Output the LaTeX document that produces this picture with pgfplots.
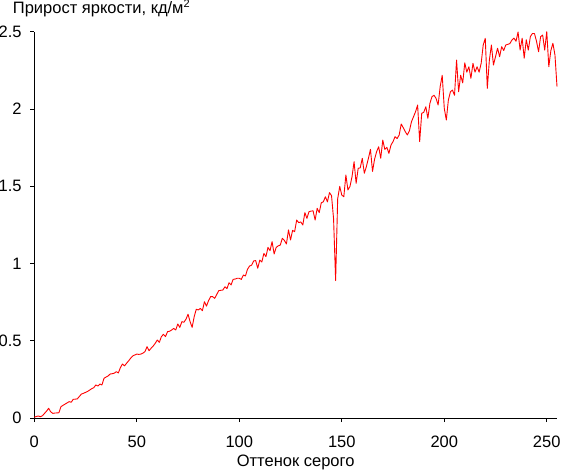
\documentclass[border=0pt]{standalone}
\usepackage{fontspec}
\setmainfont{Liberation Sans}
\usepackage{pgfplots}
\pgfplotsset{compat=1.18}
\usepackage{pgfplotstable}
\pgfplotstableread{
x y
0 0.005
1 0.01
2 0.013
3 0.008
4 0.015
5 0.03
6 0.045
7 0.063
8 0.04
9 0.03
10 0.032
11 0.033
12 0.034
13 0.073
14 0.082
15 0.09
16 0.098
17 0.106
18 0.102
19 0.121
20 0.122
21 0.124
22 0.14
23 0.155
24 0.16
25 0.166
26 0.172
27 0.181
28 0.19
29 0.196
30 0.214
31 0.207
32 0.22
33 0.214
34 0.257
35 0.265
36 0.272
37 0.285
38 0.287
39 0.29
40 0.30
41 0.292
42 0.326
43 0.35
44 0.338
45 0.354
46 0.37
47 0.387
48 0.402
49 0.408
50 0.414
51 0.412
52 0.414
53 0.42
54 0.43
55 0.462
56 0.436
57 0.452
58 0.466
59 0.484
60 0.505
61 0.49
62 0.527
63 0.542
64 0.527
65 0.559
66 0.562
67 0.57
68 0.58
69 0.57
70 0.609
71 0.587
72 0.624
73 0.62
74 0.64
75 0.672
76 0.624
77 0.587
78 0.656
79 0.704
80 0.70
81 0.71
82 0.695
83 0.753
84 0.725
85 0.76
86 0.786
87 0.786
88 0.775
89 0.80
90 0.825
91 0.827
92 0.829
93 0.85
94 0.838
95 0.876
96 0.862
97 0.898
98 0.90
99 0.905
100 0.905
101 0.898
102 0.926
103 0.92
104 0.963
105 0.984
106 0.99
107 1.017
108 1.02
109 0.97
110 1.023
111 1.01
112 1.066
113 1.045
114 1.105
115 1.084
116 1.142
117 1.062
118 1.105
119 1.115
120 1.12
121 1.164
122 1.15
123 1.127
124 1.218
125 1.153
126 1.215
127 1.207
128 1.282
129 1.265
130 1.27
131 1.25
132 1.33
133 1.293
134 1.336
135 1.34
136 1.342
137 1.282
138 1.358
139 1.33
140 1.394
141 1.40
142 1.433
143 1.40
144 1.46
145 1.44
146 1.29
147 0.89
148 1.42
149 1.50
150 1.444
151 1.433
152 1.574
153 1.477
154 1.50
155 1.563
156 1.66
157 1.52
158 1.617
159 1.62
160 1.682
161 1.585
162 1.628
163 1.682
164 1.74
165 1.597
166 1.676
167 1.725
168 1.757
169 1.682
170 1.80
171 1.74
172 1.753
173 1.714
174 1.768
175 1.79
176 1.822
177 1.81
178 1.833
179 1.904
180 1.88
181 1.854
182 1.833
183 1.86
184 1.919
185 1.951
186 1.984
187 2.027
188 1.79
189 1.973
190 1.98
191 2.016
192 1.941
193 2.038
194 2.081
195 2.09
196 2.07
197 2.027
198 2.146
199 2.22
200 2.006
201 1.93
202 2.06
203 2.113
204 2.124
205 2.09
206 2.318
207 2.113
208 2.22
209 2.17
210 2.30
211 2.24
212 2.275
213 2.2
214 2.297
215 2.24
216 2.275
217 2.24
218 2.297
219 2.416
220 2.459
221 2.135
222 2.318
223 2.416
224 2.286
225 2.34
226 2.395
227 2.34
228 2.405
229 2.38
230 2.416
231 2.42
232 2.425
233 2.448
234 2.46
235 2.44
236 2.50
237 2.383
238 2.46
239 2.33
240 2.45
241 2.383
242 2.47
243 2.49
244 2.49
245 2.44
246 2.372
247 2.47
248 2.48
249 2.383
250 2.502
251 2.275
252 2.38
253 2.427
254 2.351
255 2.146
}\datatable
\begin{document}
\fontsize{16.5pt}{19pt}\selectfont
\begin{tikzpicture}
\useasboundingbox (-34.3pt,-53pt) rectangle (526.7pt,418pt);
\begin{axis}[
  at={(0pt,0pt)}, anchor=origin,
  scale only axis,
  width=522.7pt, height=386pt,
  xmin=0, xmax=255, ymin=0, ymax=2.5,
  clip=false,
  axis x line*=bottom, axis y line*=left,
  axis line style={black, line width=1pt},
  xtick={0,50,100,150,200,250},
  ytick={0,0.5,1,1.5,2,2.5},
  yticklabels={0,0.5,1,1.5,2,2.5},
  tick align=outside,
  major tick length=4pt,
  tick style={black, line width=1pt},
  /pgf/number format/assume math mode=true,
  tick label style={font=\fontsize{16.5pt}{19pt}\selectfont},
  xticklabel style={yshift=-8pt},
  yticklabel style={xshift=-3pt},
  label style={font=\fontsize{16.5pt}{19pt}\selectfont},
  xlabel={Оттенок серого},
  xlabel style={at={(axis description cs:0.5,0)}, anchor=base, yshift=-48.7pt, inner sep=0pt},
  title={Прирост яркости, кд/м\raisebox{6pt}{\fontsize{11pt}{12pt}\selectfont 2}},
  title style={at={(axis description cs:0,1)}, anchor=base west, xshift=-21.6pt, yshift=12.3pt, inner sep=0pt, font=\fontsize{16.5pt}{19pt}\selectfont},
]
\addplot[red, line width=0.9pt, line join=round] table[x=x, y=y] {\datatable};
\end{axis}
\end{tikzpicture}
\end{document}
